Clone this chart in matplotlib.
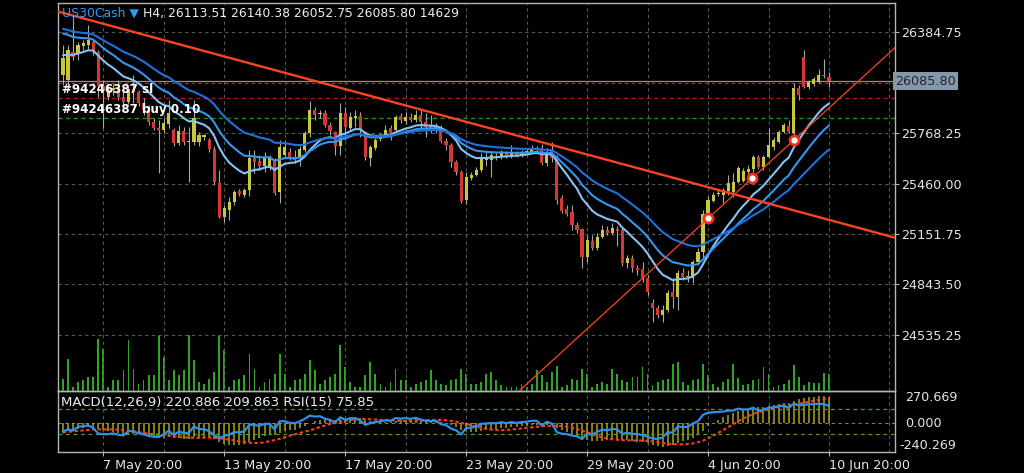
import numpy as np
import pandas as pd
import matplotlib
matplotlib.use("Agg")
import matplotlib.pyplot as plt
import matplotlib.transforms as mtransforms

# ---------------- data (US30Cash, H4) ----------------
opens = [26124, 26093, 26264, 26258, 26301, 26307, 26325, 26264, 26056, 25989,
         26032, 26044, 25989, 25958, 26038, 26020, 25952, 25910, 25836, 25799,
         25787, 25824, 25787, 25708, 25781, 25714, 25714, 25714, 25744, 25726,
         25671, 25463, 25255, 25298, 25347, 25414, 25390, 25420, 25616, 25598,
         25567, 25555, 25604, 25408, 25634, 25653, 25622, 25616, 25665, 25769,
         25910, 25885, 25891, 25818, 25775, 25689, 25891, 25799, 25861, 25873,
         25775, 25616, 25677, 25732, 25756, 25799, 25787, 25873, 25842, 25867,
         25848, 25879, 25836, 25812, 25799, 25799, 25720, 25695, 25591, 25530,
         25359, 25494, 25512, 25543, 25604, 25604, 25622, 25622, 25647, 25628,
         25647, 25634, 25653, 25653, 25671, 25677, 25585, 25665, 25616, 25371,
         25304, 25286, 25206, 25182, 25011, 25108, 25066, 25133, 25176, 25157,
         25182, 25176, 24974, 25004, 24943, 24937, 24882, 24729, 24699, 24656,
         24686, 24796, 24766, 24913, 24888, 24882, 24980, 25041, 25273, 25353,
         25396, 25390, 25414, 25408, 25469, 25475, 25530, 25549, 25622, 25561,
         25622, 25683, 25714, 25775, 25812, 25769, 26044, 26234, 26050, 26069,
         26081, 26124, 26113.51]
highs = [26307, 26307, 26491, 26325, 26338, 26429, 26338, 26277, 26093, 26062,
         26069, 26093, 26044, 26056, 26124, 26032, 25983, 25940, 25861, 25848,
         25861, 25971, 25799, 25818, 25806, 25806, 25971, 25775, 25763, 25738,
         25689, 25543, 25328, 25377, 25420, 25426, 25432, 25665, 25665, 25634,
         25653, 25634, 25616, 25726, 25726, 25677, 25665, 25689, 25781, 25965,
         25928, 25910, 25910, 25836, 25781, 25952, 25928, 25897, 25910, 25897,
         25781, 25695, 25738, 25769, 25818, 25818, 25879, 25891, 25897, 25891,
         25910, 25910, 25891, 25879, 25830, 25818, 25738, 25708, 25604, 25543,
         25530, 25530, 25561, 25647, 25653, 25653, 25647, 25665, 25659, 25695,
         25659, 25665, 25671, 25695, 25689, 25702, 25677, 25714, 25634, 25390,
         25328, 25328, 25225, 25188, 25145, 25145, 25157, 25206, 25200, 25218,
         25200, 25188, 25023, 25023, 24962, 24980, 24900, 24754, 24717, 24717,
         24809, 24882, 24931, 24943, 24931, 24992, 25066, 25298, 25384, 25408,
         25420, 25432, 25512, 25524, 25567, 25555, 25573, 25634, 25634, 25634,
         25799, 25744, 25787, 25830, 25848, 26075, 26062, 26277, 26093, 26111,
         26160, 26222, 26140.38]
lows = [26062, 26062, 26215, 26215, 26277, 26277, 26246, 25989, 25799, 25971,
        26001, 25971, 25940, 25946, 25952, 25934, 25879, 25818, 25787, 25524,
        25769, 25799, 25689, 25695, 25695, 25469, 25695, 25689, 25726, 25653,
        25451, 25249, 25225, 25237, 25328, 25384, 25377, 25384, 25524, 25543,
        25530, 25543, 25390, 25341, 25616, 25604, 25585, 25567, 25653, 25744,
        25848, 25861, 25806, 25757, 25634, 25634, 25726, 25787, 25806, 25744,
        25604, 25567, 25665, 25720, 25744, 25726, 25775, 25830, 25824, 25836,
        25836, 25799, 25744, 25769, 25769, 25708, 25665, 25561, 25512, 25341,
        25335, 25481, 25506, 25530, 25567, 25500, 25604, 25610, 25616, 25616,
        25622, 25622, 25640, 25647, 25659, 25573, 25567, 25591, 25335, 25280,
        25261, 25176, 25157, 24943, 24980, 25053, 25053, 25127, 25145, 25145,
        25078, 24955, 24943, 24919, 24900, 24858, 24778, 24613, 24637, 24613,
        24674, 24699, 24686, 24870, 24858, 24851, 24962, 25004, 25249, 25347,
        25384, 25341, 25390, 25377, 25463, 25469, 25506, 25530, 25549, 25543,
        25616, 25665, 25708, 25769, 25769, 25744, 25971, 26044, 26038, 26056,
        26075, 26105, 26052.75]
closes = [26228, 26277, 26234, 26307, 26319, 26338, 26264, 26056, 26032, 26032,
          26044, 25989, 25958, 26038, 26020, 25952, 25910, 25836, 25799, 25787,
          25830, 25891, 25708, 25781, 25714, 25720, 25861, 25756, 25756, 25671,
          25469, 25255, 25310, 25347, 25408, 25396, 25420, 25616, 25591, 25567,
          25622, 25622, 25402, 25683, 25683, 25622, 25604, 25671, 25769, 25910,
          25879, 25891, 25818, 25781, 25689, 25891, 25806, 25867, 25873, 25787,
          25622, 25683, 25726, 25750, 25787, 25769, 25867, 25848, 25867, 25848,
          25879, 25836, 25806, 25799, 25806, 25720, 25695, 25591, 25530, 25353,
          25500, 25512, 25543, 25616, 25622, 25634, 25628, 25653, 25628, 25653,
          25634, 25653, 25659, 25677, 25677, 25585, 25653, 25616, 25359, 25292,
          25273, 25206, 25176, 25011, 25114, 25066, 25133, 25176, 25157, 25188,
          25170, 24974, 25004, 24943, 24931, 24882, 24796, 24699, 24656, 24686,
          24790, 24766, 24913, 24888, 24894, 24980, 25041, 25273, 25359, 25390,
          25402, 25420, 25463, 25469, 25555, 25536, 25549, 25622, 25561, 25622,
          25695, 25726, 25775, 25818, 25775, 26044, 26001, 26050, 26081, 26099,
          26124, 26118, 26085.80]
volumes = [10320, 27520, 3440, 7740, 9460, 12040, 12040, 44720, 36120, 3440,
           9460, 9460, 18060, 43860, 18920, 6020, 9460, 13760, 13760, 48160,
           29240, 9460, 18060, 13760, 18060, 48160, 26660, 7740, 6020, 10320,
           16340, 48160, 35260, 3440, 9460, 10320, 13760, 31820, 18920, 3440,
           7740, 10320, 14620, 31820, 14620, 3440, 9460, 10320, 14620, 26660,
           18060, 6020, 9460, 12040, 14620, 39560, 20640, 7740, 3440, 3440,
           13760, 24940, 14620, 6020, 3440, 7740, 18920, 9460, 9460, 3440,
           6020, 7740, 9460, 18060, 9460, 6020, 5160, 9460, 10320, 18920,
           14620, 6020, 6020, 7740, 14620, 16340, 9460, 5160, 3440, 3440,
           3440, 6020, 3440, 6020, 18060, 13760, 7740, 16340, 21500, 3440,
           5160, 10320, 9460, 18920, 14620, 3440, 6020, 7740, 6020, 18920,
           14620, 9460, 7740, 12040, 12040, 20640, 14620, 5160, 7740, 9460,
           10320, 23220, 24940, 7740, 5160, 9460, 10320, 23220, 13760, 6020,
           3440, 7740, 10320, 23220, 11180, 5160, 6020, 9460, 10320, 20640,
           14620, 3440, 5160, 6020, 9460, 22360, 12040, 5160, 7740, 6880,
           6880, 15480, 14629]

time_labels = ["7 May 20:00", "13 May 20:00", "17 May 20:00", "23 May 20:00",
               "29 May 20:00", "4 Jun 20:00", "10 Jun 20:00"]
label_bars = [8, 32, 56, 80, 104, 128, 152]
price_ticks = [26384.75, 26076.50, 25768.25, 25460.00, 25151.75, 24843.50, 24535.25]
bid_price = 26085.80
sl_price = 25985
entry_price = 25862
trend_down = [(2, 26487), (160, 25171)]
trend_up = [(100, 24458), (160, 26147)]
alert_bars = [128, 136.7, 145.1]
ma_periods = [13, 21, 34]
ma_start = [26246, 26393, 26417]
macd_start = -82
rsi_start = 33
macd_range = (-240.269, 270.669)
rsi_levels = [70, 30]
symbol_part = "US30Cash \u25bc"
quote_part = "H4, 26113.51 26140.38 26052.75 26085.80 14629"
macd_header = "MACD(12,26,9) 220.886 209.863 RSI(15) 75.85"
order_labels = ["#94246387 sl", "#94246387 buy 0.10"]

# ---------------- styles ----------------
BG = "black"
FRAME = "#b4b4b4"
GRID = "#575757"
TXT = "#e6e6e6"
BULL = "#c8c83e"
BEAR = "#d83636"
WICK = "#a8a8a8"
VOL = "#2ea526"
TL = "#ff4220"
MA_COLORS = ["#86c2f2", "#3597f0", "#1f72dc"]
FS = 9.2

plt.rcParams["font.family"] = ["DejaVu Sans"]

fig = plt.figure(figsize=(10.24, 4.73), dpi=100, facecolor=BG)
L, R = 58 / 1024, 895 / 1024
mb, mt = 1 - 391 / 473, 1 - 3 / 473
db = 1 - 452 / 473
ax = fig.add_axes([L, mb, R - L, mt - mb])
axm = fig.add_axes([L, db, R - L, mb - db], sharex=ax)

x = np.arange(len(closes))
o = np.array(opens, float); h = np.array(highs, float)
l = np.array(lows, float); c = np.array(closes, float)
v = np.array(volumes, float)

# volume on a twin axis, drawn below price
axv = ax.twinx()
axv.set_zorder(0); ax.set_zorder(1)
ax.patch.set_visible(False)
axv.patch.set_visible(False)
axv.bar(x, v, width=0.36, color=VOL, linewidth=0)
axv.set_ylim(0, 333700)
axv.yaxis.set_visible(False)
for s in axv.spines.values():
    s.set_visible(False)

ax.set_xlim(-0.98, 165.1)
ax.set_ylim(24190.9, 26564.0)

# grid
grid_bars = list(range(8, 166, 12))
for gb in grid_bars:
    ax.axvline(gb, color=GRID, lw=0.8, ls=(0, (3, 3)), zorder=1)
    axm.axvline(gb, color=GRID, lw=0.8, ls=(0, (3, 3)), zorder=1)
for pt in price_ticks:
    ax.axhline(pt, color=GRID, lw=0.8, ls=(0, (3, 3)), zorder=1)

# horizontal order lines
ax.axhline(bid_price, color="#c77b80", lw=0.9, zorder=2)
ax.axhline(sl_price, color="#b01515", lw=1.0, ls=(0, (3, 2.5)), zorder=2)
ax.axhline(entry_price, color="#169616", lw=1.0, ls=(0, (3, 2.5)), zorder=2)

# candles
up = c >= o
ax.vlines(x, l, h, color=WICK, lw=0.8, zorder=3)
ax.bar(x, np.maximum(np.abs(c - o), 5), bottom=np.minimum(o, c), width=0.62,
       color=np.where(up, BULL, BEAR), linewidth=0, zorder=4)

# moving averages (EMA seeded at the left edge values)
def ema(vals, period, seed):
    a = 2.0 / (period + 1)
    out, prev = [], seed
    for val in vals:
        prev = prev + a * (val - prev)
        out.append(prev)
    return np.array(out)

for p, s0, col in zip(ma_periods, ma_start, MA_COLORS):
    ax.plot(x, ema(c, p, s0), color=col, lw=1.5, zorder=5, solid_capstyle="round")

# trend lines
ax.axline(trend_down[0], trend_down[1], color=TL, lw=1.7, zorder=6)
ax.axline(trend_up[0], trend_up[1], color=TL, lw=0.9, zorder=6)
(x1, y1), (x2, y2) = trend_up
ab = np.array(alert_bars)
ax.plot(ab, y1 + (ab - x1) * (y2 - y1) / (x2 - x1), "o", ms=6.5, mfc="white",
        mec="#ff2a16", mew=2.0, zorder=7, ls="none")

# header text: symbol in blue, quote in white, placed side by side
renderer = fig.canvas.get_renderer()
t_sym = ax.text(4 / 837, 1 - 10 / 388, symbol_part, transform=ax.transAxes,
                fontsize=8.9, va="center", ha="left", color="#2f9cf2", zorder=10)
bb = t_sym.get_window_extent(renderer=renderer)
hdr_tr = mtransforms.offset_copy(ax.transAxes, fig=fig,
                                 x=(bb.x1 - (ax.get_position().x0 * fig.bbox.width
                                             + 4 / 837 * ax.bbox.width)) + 4,
                                 y=0, units="dots")
ax.text(4 / 837, 1 - 10 / 388, quote_part, transform=hdr_tr, fontsize=8.9,
        va="center", ha="left", color="#eeeeee", zorder=10)

tb = mtransforms.blended_transform_factory(ax.transAxes, ax.transData)
off = mtransforms.offset_copy(tb, fig=fig, x=0, y=1.5, units="points")
ax.text(4 / 837, sl_price, order_labels[0], transform=off, color="white",
        fontsize=8.6, fontweight="bold", va="bottom", ha="left", zorder=10)
ax.text(4 / 837, entry_price, order_labels[1], transform=off, color="white",
        fontsize=8.6, fontweight="bold", va="bottom", ha="left", zorder=10)

# price axis
ax.yaxis.tick_right()
ax.set_yticks(price_ticks)
ax.set_yticklabels([("%.2f" % p) if abs(p - bid_price) > 40 else "" for p in price_ticks])
ax.tick_params(axis="y", colors=FRAME, labelcolor=TXT, labelsize=FS, length=3,
               width=0.8, pad=1.5, direction="out")
ax.tick_params(axis="x", bottom=False, labelbottom=False)
ax.text(1.0, bid_price, "26085.80", transform=tb, color="#20252b", fontsize=FS,
        ha="left", va="center", clip_on=False, zorder=20,
        bbox=dict(boxstyle="square,pad=0.18", fc="#8597ab", ec="none"))
for s in ax.spines.values():
    s.set_color(FRAME); s.set_linewidth(1.0)

# ---------------- MACD + RSI panel ----------------
ema_f = ema(c, 12, c[0])
ema_s = ema(c, 26, c[0] - macd_start)
macd = ema_f - ema_s
signal = pd.Series(macd).rolling(9, min_periods=1).mean().values

diff = np.diff(c, prepend=c[0])
avg_abs = np.mean(np.abs(np.diff(c[:16])))
ag, al = rsi_start / 100 * avg_abs, (1 - rsi_start / 100) * avg_abs
rsi = []
for i, d in enumerate(diff):
    if i > 0:
        ag = (ag * 14 + max(d, 0)) / 15
        al = (al * 14 + max(-d, 0)) / 15
    rsi.append(100 - 100 / (1 + ag / al))
rsi = np.array(rsi)

axm.set_facecolor(BG)
axm.set_ylim(*macd_range)
axm.axhline(0, color="#7a7a7a", lw=0.8, ls=(0, (3, 3)), zorder=1)
axm.vlines(x, 0, macd, color="#a8a818", lw=1.1, zorder=2)
axm.plot(x, signal, color="#ff3a22", lw=1.5, ls=(0, (1.6, 1.2)), zorder=4)
axr = axm.twinx()
axr.set_ylim(0, 100)
for lv in rsi_levels:
    axr.axhline(lv, color="#5a9e1e", lw=0.9, ls=(0, (3, 3)), zorder=1)
axr.plot(x, rsi, color="#2d8ff0", lw=1.6, zorder=5)
axr.yaxis.set_visible(False)
for s in axr.spines.values():
    s.set_visible(False)

axm.set_yticks([])
for s in axm.spines.values():
    s.set_color(FRAME); s.set_linewidth(1.0)
axm.text(3 / 837, 0.92, macd_header, transform=axm.transAxes, color="#eeeeee",
         fontsize=9.5, va="top", ha="left", zorder=10)
mb_t = mtransforms.blended_transform_factory(axm.transAxes, axm.transData)
axm.text(1.012, macd_range[1], "%.3f" % macd_range[1], transform=mb_t, color=TXT,
         fontsize=FS, ha="left", va="top", clip_on=False)
axm.text(1.012, 0, "0.000", transform=mb_t, color=TXT, fontsize=FS,
         ha="left", va="center", clip_on=False)
axm.text(1.005, macd_range[0], "%.3f" % macd_range[0], transform=mb_t, color=TXT,
         fontsize=FS, ha="left", va="bottom", clip_on=False)

axm.set_xticks(label_bars)
axm.set_xticklabels(time_labels, ha="left")
axm.tick_params(axis="x", colors=FRAME, labelcolor=TXT, labelsize=FS, length=3,
                width=0.8, pad=2, direction="out")

fig.savefig("out.png", dpi=100, facecolor=BG)
